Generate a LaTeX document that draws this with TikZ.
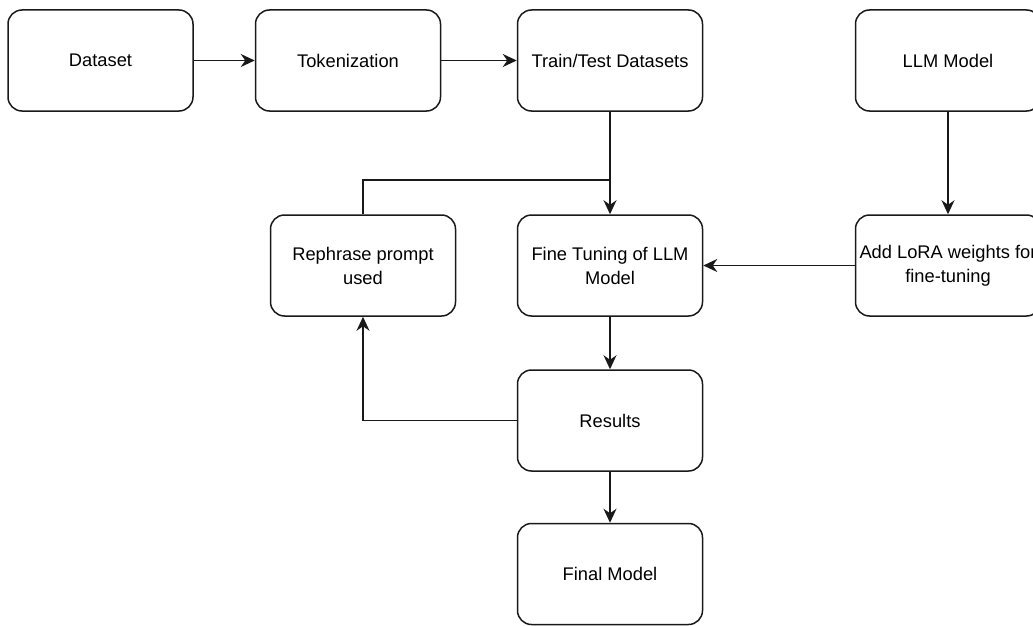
\documentclass[tikz,border=0pt]{standalone}
\usepackage{fontspec}
\setmainfont{Liberation Sans}
\usetikzlibrary{arrows.meta}
\begin{document}
\begin{tikzpicture}[x=1pt,y=-1pt,
  stepbox/.style={draw=black!90, line width=1.5pt, rounded corners=14pt,
    minimum width=185pt, minimum height=101pt, align=center, inner sep=0pt,
    font=\fontsize{18.3}{24}\selectfont, text=black},
  flow/.style={draw=black!90, line width=1.5pt,
    -{Stealth[length=14pt,width=13pt,inset=4.5pt]}},
  link/.style={draw=black!90, line width=1.5pt}]
\useasboundingbox (0,0) rectangle (1033,626);
\clip (0,0) rectangle (1033,626);

% top row
\node[stepbox] (data)  at (100.5,60.5) {Dataset};
\node[stepbox] (tok)   at (348,60.5)   {Tokenization};
\node[stepbox] (tt)    at (610,60.5)   {Train/Test Datasets};
\node[stepbox] (llm)   at (948,60.5)   {LLM Model};

% second row
\node[stepbox] (reph)  at (363,265.5)  {Rephrase prompt\\used};
\node[stepbox] (fine)  at (610,265.5)  {Fine Tuning of LLM\\Model};
\node[stepbox] (lora)  at (948,265.5)  {Add LoRA weights for\\fine-tuning};

% lower column
\node[stepbox] (res)   at (610,420.5)  {Results};
\node[stepbox] (final) at (610,574)    {Final Model};

% junction where the feedback loop joins the main path
\coordinate (j) at (610,180);

\draw[flow] (data) -- (tok);
\draw[flow] (tok) -- (tt);
\draw[flow] (tt) -- (fine);
\draw[link] (reph.north) |- (j);
\draw[flow] (llm) -- (lora);
\draw[flow] (lora) -- (fine);
\draw[flow] (fine) -- (res);
\draw[flow] (res) -- (final);
\draw[flow] (res.west) -| (reph.south);
\end{tikzpicture}
\end{document}
